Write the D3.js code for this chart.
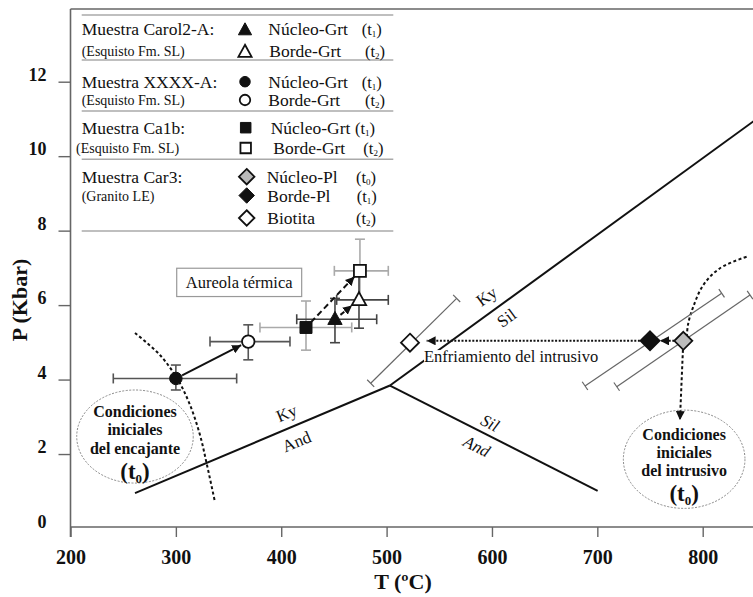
<!DOCTYPE html>
<html><head><meta charset="utf-8">
<script src="https://cdn.jsdelivr.net/npm/d3@7"></script>
<style>
body{margin:0;background:#fff}
svg{display:block}
text{font-family:"Liberation Serif","Times New Roman",serif;fill:#111}
</style>
</head><body>
<script>
// ---------------- data ----------------
const tempTicks = [200, 300, 400, 500, 600, 700, 800];
const pressTicks = [0, 2, 4, 6, 8, 10, 12];
// [sample, T, P, Tmin, Tmax, Pmin, Pmax]
const garnetCore = [
  ["Ca1b", 423.5, 5.40, 379.8, 466.9, 4.79, 6.11],
  ["XXXX-A", 300, 4.03, 240.6, 357.7, 3.72, 4.39],
  ["Carol2-A", 451, 5.62, 414.7, 490.6, 4.99, 6.18]
];
const garnetRim = [
  ["Ca1b", 474.7, 6.92, 450.4, 501.6, 6.07, 7.77],
  ["XXXX-A", 368.7, 5.02, 332.4, 408.3, 4.53, 5.47],
  ["Carol2-A", 473.8, 6.14, 452.6, 501.6, 5.38, 6.90]
];
// [mineral, T, P, T1, P1, T2, P2]  (error bar along the slope)
const granitePts = [
  ["Biotita", 522.2, 4.99, 484.9, 3.90, 566.5, 6.18],
  ["Borde-Pl", 750, 5.04, 688.3, 3.83, 818.0, 6.32],
  ["Núcleo-Pl", 781.6, 5.04, 718.4, 3.81, 844.9, 6.27]
];
const kyAnd = [[261.2, 0.95], [503.2, 3.84]];
const silAnd = [[503.2, 3.84], [700.3, 1.01]];
const kySil = [[503.2, 3.84], [860, 11.18]];
const hostCurve = [[261.2, 5.25], [284.9, 4.66], [302, 3.99], [313.4, 3.32], [322.9, 2.51], [329.5, 1.71], [337.1, 0.71]];
const intrusiveCurve = [[784.8, 5.15], [786.3, 5.51], [791.1, 5.96], [800.6, 6.54], [816.4, 6.99], [841.7, 7.30]];
// arrows: [T1, P1, T2, P2]
const growthArrows = [[300, 4.03, 368.7, 5.02], [423.5, 5.40, 474.7, 6.92], [451, 5.62, 473.8, 6.14]];
const coolingArrow = [740.4, 5.04, 538.0, 5.04];
const coreRimArrow = [781.6, 5.04, 750, 5.04];
const toIntrusiveArrow = [781.6, 5.04, 778.4, 2.91];
const legendSamples = [["Muestra Carol2-A:", "(Esquisto Fm. SL)"], ["Muestra XXXX-A:", "(Esquisto Fm. SL)"],
  ["Muestra Ca1b:", "(Esquisto Fm. SL)"], ["Muestra Car3:", "(Granito LE)"]];
const legendItems = [["Núcleo-Grt", "1"], ["Borde-Grt", "2"], ["Núcleo-Grt", "1"], ["Borde-Grt", "2"],
  ["Núcleo-Grt", "1"], ["Borde-Grt", "2"], ["Núcleo-Pl", "0"], ["Borde-Pl", "1"], ["Biotita", "2"]];

// ---------------- setup ----------------
const W = 753, H = 597;
const svg = d3.select("body").append("svg").attr("width", W).attr("height", H);
const x = d3.scaleLinear().domain([200, 800]).range([70.5, 702.7]);
const y = d3.scaleLinear().domain([0, 12]).range([528.5, 81.7]);
const axisY = 527, topY = 9;
const grayAxis = "#666";

const defs = svg.append("defs");
defs.append("marker").attr("id", "ah").attr("viewBox", "0 0 10 10").attr("refX", 10).attr("refY", 5)
  .attr("markerWidth", 4.5).attr("markerHeight", 4.5).attr("markerUnits", "strokeWidth").attr("orient", "auto")
  .append("path").attr("d", "M0,0 L10,5 L0,10 Z").attr("fill", "#111");

// frame / axes
svg.append("line").attr("x1", x(200)).attr("x2", W).attr("y1", topY).attr("y2", topY).attr("stroke", grayAxis).attr("stroke-width", 1.6);
svg.append("line").attr("x1", x(200)).attr("x2", x(200)).attr("y1", topY).attr("y2", axisY + 10).attr("stroke", grayAxis).attr("stroke-width", 1.6);
svg.append("line").attr("x1", x(200)).attr("x2", W).attr("y1", axisY).attr("y2", axisY).attr("stroke", grayAxis).attr("stroke-width", 1.6);

const xa = svg.append("g").attr("transform", `translate(0,${axisY})`)
  .call(d3.axisBottom(x).tickValues(tempTicks).tickSize(10).tickPadding(12.5).tickFormat(d3.format("d")));
xa.select(".domain").remove();
xa.selectAll("line").attr("stroke", grayAxis).attr("stroke-width", 1.4);
xa.selectAll("text").attr("font-size", 20).attr("font-weight", "bold").attr("fill", "#111")
  .style("font-family", "'Liberation Serif',serif");

const ya = svg.append("g").attr("transform", `translate(${x(200)},0)`)
  .call(d3.axisLeft(y).tickValues(pressTicks).tickSize(12).tickPadding(12).tickFormat(d3.format("d")));
ya.select(".domain").remove();
ya.selectAll("line").attr("stroke", grayAxis).attr("stroke-width", 1.4).attr("opacity", d => d === 0 ? 0 : 1);
ya.selectAll("text").attr("font-size", 18).attr("font-weight", "bold").attr("fill", "#111")
  .attr("dy", "-0.08em").style("font-family", "'Liberation Serif',serif");

svg.append("text").attr("x", 403).attr("y", 589).attr("text-anchor", "middle")
  .attr("font-size", 22).attr("font-weight", "bold").text("T (ºC)");
svg.append("text").attr("transform", "translate(27,300) rotate(-90)").attr("text-anchor", "middle")
  .attr("font-size", 22).attr("font-weight", "bold").text("P (Kbar)");

// ---------------- phase diagram ----------------
const line = d3.line().x(d => x(d[0])).y(d => y(d[1]));
[kyAnd, silAnd, kySil].forEach(seg => {
  svg.append("path").attr("d", line(seg)).attr("fill", "none").attr("stroke", "#111").attr("stroke-width", 2);
});
function rotLabel(T, P, ang, txt, italic) {
  svg.append("text").attr("transform", `translate(${x(T)},${y(P)}) rotate(${ang})`)
    .attr("text-anchor", "middle").attr("dominant-baseline", "central")
    .attr("font-size", 17).attr("font-style", italic ? "italic" : "normal").text(txt);
}
const ang = (seg) => Math.atan2(y(seg[1][1]) - y(seg[0][1]), x(seg[1][0]) - x(seg[0][0])) * 180 / Math.PI;
rotLabel(595, 6.23, ang(kySil), "Ky");
rotLabel(614, 5.65, ang(kySil), "Sil");
rotLabel(405.2, 3.09, ang(kyAnd), "Ky");
rotLabel(414.7, 2.33, ang(kyAnd), "And");
rotLabel(598.1, 2.83, ang(silAnd), "Sil", true);
rotLabel(585.5, 2.20, ang(silAnd), "And", true);

// dashed curves
const curve = d3.line().x(d => x(d[0])).y(d => y(d[1])).curve(d3.curveCatmullRom);
svg.append("path").attr("d", curve(hostCurve)).attr("fill", "none").attr("stroke", "#111")
  .attr("stroke-width", 2).attr("stroke-dasharray", "3,2.5");
svg.append("path").attr("d", curve(intrusiveCurve)).attr("fill", "none").attr("stroke", "#111")
  .attr("stroke-width", 2).attr("stroke-dasharray", "3,2.5");

// ellipses
function bubble(T, P, rT, rP, lines) {
  const cx = x(T), cy = y(P);
  svg.append("ellipse").attr("cx", cx).attr("cy", cy).attr("rx", x(T + rT) - cx).attr("ry", cy - y(P + rP))
    .attr("fill", "#fff").attr("stroke", "#888").attr("stroke-width", 1).attr("stroke-dasharray", "2,1.5");
  lines.forEach((t, i) => {
    svg.append("text").attr("x", cx).attr("y", cy - 19.5 + i * 18.3).attr("text-anchor", "middle")
      .attr("font-size", 16).attr("font-weight", "bold").text(t);
  });
  const t0 = svg.append("text").attr("x", cx).attr("y", cy + 42).attr("text-anchor", "middle")
    .attr("font-size", 23).attr("font-weight", "bold");
  t0.append("tspan").text("(t");
  t0.append("tspan").attr("font-size", 13).attr("dy", 4).text("0");
  t0.append("tspan").attr("dy", -4).text(")");
}
bubble(261.2, 2.47, 55.3, 1.25, ["Condiciones", "iniciales", "del encajante"]);
bubble(782.4, 1.86, 57.7, 1.32, ["Condiciones", "iniciales", "del intrusivo"]);

// Aureola térmica box
svg.append("rect").attr("x", x(300.8)).attr("y", y(6.99)).attr("width", x(419.4) - x(300.8)).attr("height", y(6.23) - y(6.99))
  .attr("fill", "#fff").attr("stroke", "#999").attr("stroke-width", 1.2);
svg.append("text").attr("x", x(360.1)).attr("y", y(6.61) + 5.5).attr("text-anchor", "middle").attr("font-size", 16.5).text("Aureola térmica");

// cooling label with white background
const coolG = svg.append("g");
const coolBg = coolG.append("rect").attr("fill", "#fff");
const cool = coolG.append("text").attr("x", x(535.5)).attr("y", y(4.47)).attr("font-size", 16.5).text("Enfriamiento del intrusivo");
const bb = cool.node().getBBox();
coolBg.attr("x", bb.x).attr("y", bb.y + 3).attr("width", bb.width).attr("height", bb.height - 3);

// ---------------- error bars ----------------
const cap = 5;
function crossBars(d, color) {
  const g = svg.append("g").attr("stroke", color).attr("stroke-width", 1.6);
  const cx = x(d[1]), cy = y(d[2]);
  g.append("line").attr("x1", x(d[3])).attr("x2", x(d[4])).attr("y1", cy).attr("y2", cy);
  g.append("line").attr("x1", x(d[3])).attr("x2", x(d[3])).attr("y1", cy - cap).attr("y2", cy + cap);
  g.append("line").attr("x1", x(d[4])).attr("x2", x(d[4])).attr("y1", cy - cap).attr("y2", cy + cap);
  g.append("line").attr("x1", cx).attr("x2", cx).attr("y1", y(d[5])).attr("y2", y(d[6]));
  g.append("line").attr("x1", cx - cap).attr("x2", cx + cap).attr("y1", y(d[5])).attr("y2", y(d[5]));
  g.append("line").attr("x1", cx - cap).attr("x2", cx + cap).attr("y1", y(d[6])).attr("y2", y(d[6]));
}
const barColor = { "Ca1b": "#aaa", "XXXX-A": "#555", "Carol2-A": "#444" };
garnetCore.concat(garnetRim).filter(d => d[0] === "Ca1b").forEach(d => crossBars(d, barColor[d[0]]));
garnetCore.concat(garnetRim).filter(d => d[0] !== "Ca1b").forEach(d => crossBars(d, barColor[d[0]]));

granitePts.forEach(d => {
  const x1 = x(d[3]), y1 = y(d[4]), x2 = x(d[5]), y2 = y(d[6]);
  const len = Math.hypot(x2 - x1, y2 - y1), nx = -(y2 - y1) / len, ny = (x2 - x1) / len;
  const g = svg.append("g").attr("stroke", "#666").attr("stroke-width", 1.2);
  g.append("line").attr("x1", x1).attr("y1", y1).attr("x2", x2).attr("y2", y2);
  [[x1, y1], [x2, y2]].forEach(p => g.append("line").attr("x1", p[0] - nx * cap).attr("y1", p[1] - ny * cap)
    .attr("x2", p[0] + nx * cap).attr("y2", p[1] + ny * cap));
});

// ---------------- arrows ----------------
function arrow(a, s0, s1, dash, width) {
  let x1 = x(a[0]), y1 = y(a[1]), x2 = x(a[2]), y2 = y(a[3]);
  const len = Math.hypot(x2 - x1, y2 - y1), ux = (x2 - x1) / len, uy = (y2 - y1) / len;
  x1 += ux * s0; y1 += uy * s0; x2 -= ux * s1; y2 -= uy * s1;
  svg.append("line").attr("x1", x1).attr("y1", y1).attr("x2", x2).attr("y2", y2)
    .attr("stroke", "#111").attr("stroke-width", width).attr("stroke-dasharray", dash)
    .attr("marker-end", "url(#ah)");
}
arrow(growthArrows[0], 7, 8, null, 2);
arrow(growthArrows[1], 7, 8, "6,3.5", 2);
arrow(growthArrows[2], 7, 9, "5,3", 2);
arrow(coolingArrow, 0, 0, "2,1.6", 2);
arrow(coreRimArrow, 9, 10, "2,1.6", 2);
arrow(toIntrusiveArrow, 9, 0, "3,2.5", 2);

// ---------------- markers ----------------
const shapes = {
  tri: s => `M0,${-s * 0.6}L${s * 0.55},${s * 0.4}L${-s * 0.55},${s * 0.4}Z`,
  circ: s => d3.arc()({ innerRadius: 0, outerRadius: s / 2, startAngle: 0, endAngle: 2 * Math.PI }),
  sq: s => `M${-s / 2},${-s / 2}h${s}v${s}h${-s}Z`,
  dia: s => `M0,${-s / 2}L${s / 2},0L0,${s / 2}L${-s / 2},0Z`
};
const sampleShape = { "Carol2-A": "tri", "XXXX-A": "circ", "Ca1b": "sq" };
const shapeSize = { tri: 13, circ: 12.5, sq: 12, dia: 18 };
function mark(px, py, shape, size, fill, sw) {
  svg.append("path").attr("transform", `translate(${px},${py})`).attr("d", shapes[shape](size))
    .attr("fill", fill).attr("stroke", "#111").attr("stroke-width", sw);
}
garnetCore.forEach(d => mark(x(d[1]), y(d[2]), sampleShape[d[0]], shapeSize[sampleShape[d[0]]], "#111", 1));
garnetRim.forEach(d => mark(x(d[1]), y(d[2]), sampleShape[d[0]], shapeSize[sampleShape[d[0]]], "#fff", 1.8));
const graniteFill = { "Núcleo-Pl": "#bbb", "Borde-Pl": "#111", "Biotita": "#fff" };
granitePts.forEach(d => mark(x(d[1]), y(d[2]), "dia", d[0] === "Borde-Pl" ? 19 : 18, graniteFill[d[0]], 1.8));

// ---------------- legend ----------------
const lg = svg.append("g");
const sepYs = [15, 60, 111, 159.3, 231];
sepYs.forEach(v => lg.append("line").attr("x1", 81.7).attr("x2", 393.3).attr("y1", v).attr("y2", v)
  .attr("stroke", "#aaa").attr("stroke-width", 1.5));
const rowY = [29, 51, 81.7, 100, 127.7, 148, 176.7, 195.5, 218];
const sampleRows = [0, 2, 4, 6];
legendSamples.forEach((s, i) => {
  const r = sampleRows[i];
  lg.append("text").attr("x", 81.7).attr("y", rowY[r] + 6).attr("font-size", 17.5).text(s[0]);
  lg.append("text").attr("x", i === 2 ? 76 : 81.7).attr("y", rowY[r + 1] + 5).attr("font-size", 14).text(s[1]);
});
const legShapes = ["tri", "tri", "circ", "circ", "sq", "sq", "dia", "dia", "dia"];
const legFill = ["#111", "#fff", "#111", "#fff", "#111", "#fff", "#bbb", "#111", "#fff"];
const legSize = { tri: 12, circ: 10.5, sq: 10.5, dia: 15.5 };
const legSymX = [245, 245, 245, 245, 245.7, 245.7, 246.7, 246.7, 246.7];
const legTextX = [268.3, 269.3, 268.3, 268.3, 270.7, 273.3, 266.7, 267.3, 267.3];
const legTX = [361.7, 365, 361.7, 365, 355, 363.3, 356, 356.7, 356];
legendItems.forEach((it, i) => {
  const filled = legFill[i] === "#111";
  mark(legSymX[i], rowY[i] + (legShapes[i] === "tri" ? 1 : 0), legShapes[i], legSize[legShapes[i]], legFill[i], filled ? 1 : 1.8);
  lg.append("text").attr("x", legTextX[i]).attr("y", rowY[i] + 6).attr("font-size", 17.5).text(it[0]);
  const t = lg.append("text").attr("x", legTX[i]).attr("y", rowY[i] + 6).attr("font-size", 16.5);
  t.append("tspan").text("(t");
  t.append("tspan").attr("font-size", 9).attr("dy", 2).text(it[1]);
  t.append("tspan").attr("dy", -2).text(")");
});
</script>
</body></html>
